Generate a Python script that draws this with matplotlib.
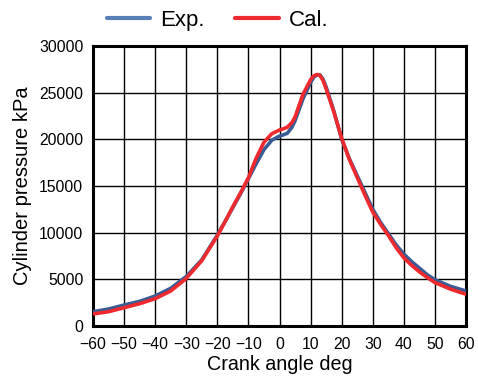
import matplotlib
matplotlib.use("Agg")
import matplotlib.pyplot as plt

plt.rcParams['font.family'] = ['Liberation Sans', 'DejaVu Sans']

exp_angle = [-60, -55, -50, -45, -40, -35, -30, -25, -20, -17.5, -15, -12.5, -10, -7.5, -5, -2.5, 0,
             1, 2.5, 4, 5, 7.5, 10, 11, 12, 13, 14, 15, 17.5, 20, 22.5, 25, 27.5, 30, 32.5, 35,
             37.5, 40, 42.5, 45, 47.5, 50, 55, 60]
exp_p = [1530, 1820, 2250, 2640, 3210, 4040, 5300, 7100, 9750, 11200, 12700, 14200, 15800, 17400,
         18900, 19900, 20350, 20450, 20650, 21300, 22000, 24300, 26100, 26650, 26900, 26900, 26450,
         25600, 23000, 20000, 17900, 16100, 14300, 12500, 11100, 9900, 8700, 7700, 6900, 6200, 5500,
         4950, 4250, 3750]

cal_angle = [-60, -55, -50, -45, -40, -35, -30, -25, -20, -17.5, -15, -12.5, -10, -7.5, -5, -2.5, 0,
             1, 2.5, 4, 5, 7.5, 10, 11, 12, 13, 14, 15, 17.5, 20, 22.5, 25, 27.5, 30, 32.5, 35,
             37.5, 40, 42.5, 45, 47.5, 50, 55, 60]
cal_p = [1290, 1530, 1960, 2390, 2930, 3750, 5100, 7000, 9650, 11200, 12800, 14300, 15900, 18000,
         19700, 20600, 21000, 21100, 21300, 21800, 22400, 24800, 26400, 26800, 26950, 26850, 26300,
         25400, 22900, 20100, 17800, 15900, 14000, 12200, 10900, 9700, 8400, 7300, 6500, 5800, 5200,
         4650, 3950, 3400]

xticks = list(range(-60, 61, 10))
yticks = list(range(0, 30001, 5000))

fig = plt.figure(figsize=(4.78, 3.82), dpi=100)
ax = fig.add_axes([0.1946, 0.1466, 0.7804, 0.733])

ax.plot(exp_angle, exp_p, color='#3b5b94', lw=2.6, label='Exp.', solid_joinstyle='round',
        solid_capstyle='round', zorder=3)
ax.plot(cal_angle, cal_p, color='#ee2a2e', lw=2.6, label='Cal.', solid_joinstyle='round',
        solid_capstyle='round', zorder=4)

ax.set_xlim(-60, 60)
ax.set_ylim(0, 30000)
ax.set_xticks(xticks)
ax.set_yticks(yticks)
ax.tick_params(length=0, labelsize=11.3, colors='black')
ax.tick_params(axis='x', pad=8)
ax.tick_params(axis='y', pad=7)
ax.grid(True, color='black', lw=1.0)
ax.set_axisbelow(True)
for s in ax.spines.values():
    s.set_linewidth(2.2)
    s.set_color('black')

ax.set_xlabel('Crank angle deg', fontsize=14.2, labelpad=2)
ax.set_ylabel('Cylinder pressure kPa', fontsize=14.5, labelpad=5)

handles, labels = ax.get_legend_handles_labels()
leg = fig.legend(handles, labels, loc='center', bbox_to_anchor=(0.455, 0.946), ncol=2,
                 frameon=False, fontsize=16, handlelength=1.95, columnspacing=1.4,
                 handletextpad=0.45)
leg.get_lines()[0].set_color('#5a7fb8')
for l in leg.get_lines():
    l.set_linewidth(3)

fig.savefig('out.png', dpi=100)
